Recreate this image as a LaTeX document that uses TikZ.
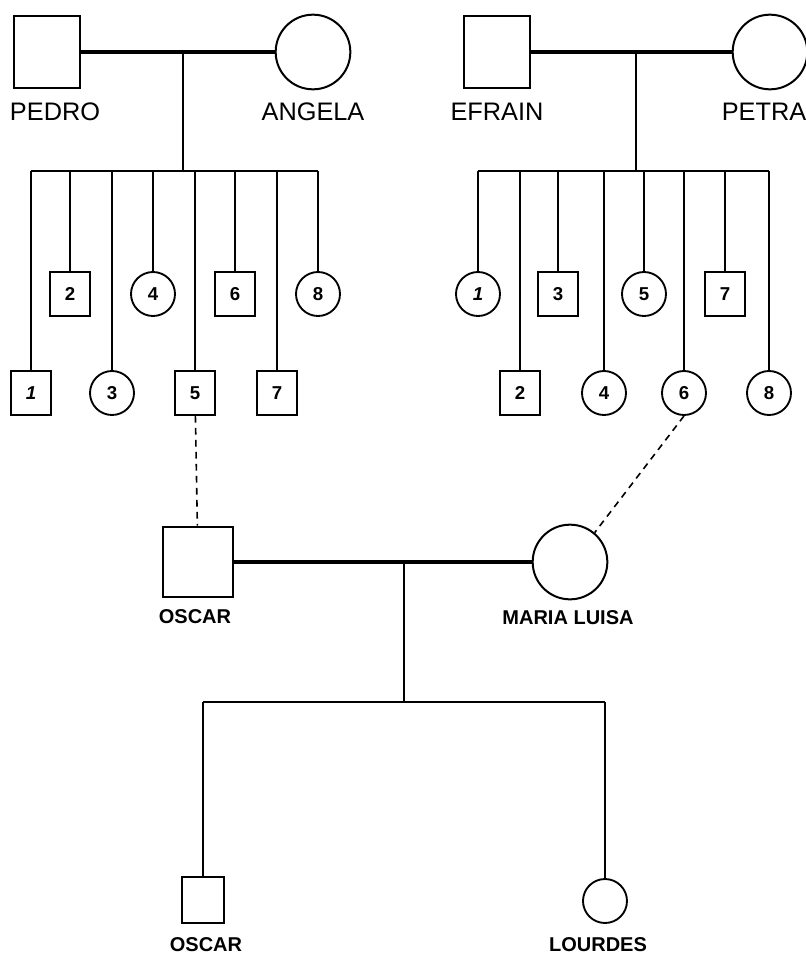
\documentclass[tikz,border=0pt]{standalone}
\usepackage{fontspec}
\setmainfont{Liberation Sans}
\usetikzlibrary{positioning,calc}

\begin{document}
\begin{tikzpicture}[x=0.75pt, y=-0.75pt,
    parentm/.style={draw, line width=1.5pt, rectangle, inner sep=0pt, minimum width=50pt, minimum height=54pt},
    parentf/.style={draw, line width=1.5pt, circle, inner sep=0pt, minimum size=56pt},
    kidm/.style={draw, line width=1.4pt, rectangle, inner sep=0pt, minimum width=30pt, minimum height=33pt, font=\bfseries\fontsize{14pt}{14pt}\selectfont},
    kidf/.style={draw, line width=1.4pt, circle, inner sep=0pt, minimum size=33pt, font=\bfseries\fontsize{14pt}{14pt}\selectfont},
    marriage/.style={line width=2.8pt},
    descent/.style={line width=1.1pt},
    twin/.style={line width=1.2pt, dash pattern=on 5pt off 4pt},
    bigname/.style={inner sep=0pt, font=\fontsize{19pt}{19pt}\selectfont},
    smallname/.style={inner sep=0pt, font=\bfseries\fontsize{15pt}{15pt}\selectfont}
]
\useasboundingbox (0,0) rectangle (806,956);

% first family
\node[parentm] (pedro) at (47, 52) {};
\node[parentf] (angela) at (313, 52) {};
\node[bigname] (pedrolbl) at (55, 112) {PEDRO};
\node[bigname] (angelalbl) at (313, 112) {ANGELA};
\coordinate (pa) at (183, 52);
\coordinate (pabar) at (183, 171);

\node[kidm] (pa1) at (31, 393) {\itshape 1};
\node[kidm] (pa2) at (70, 294) {2};
\node[kidf] (pa3) at (112, 393) {3};
\node[kidf] (pa4) at (153, 294) {4};
\node[kidm] (pa5) at (195, 393) {5};
\node[kidm] (pa6) at (235, 294) {6};
\node[kidm] (pa7) at (277, 393) {7};
\node[kidf] (pa8) at (318, 294) {8};

% second family
\node[parentm] (efrain) at (497, 52) {};
\node[parentf] (petra) at (770, 52) {};
\node[bigname] (efrainlbl) at (497, 112) {EFRAIN};
\node[bigname] (petralbl) at (764, 112) {PETRA};
\coordinate (ef) at (636, 52);
\coordinate (efbar) at (636, 171);

\node[kidf] (ef1) at (478, 294) {\itshape 1};
\node[kidm] (ef2) at (520, 393) {2};
\node[kidm] (ef3) at (558, 294) {3};
\node[kidf] (ef4) at (604, 393) {4};
\node[kidf] (ef5) at (644, 294) {5};
\node[kidf] (ef6) at (684, 393) {6};
\node[kidm] (ef7) at (725, 294) {7};
\node[kidf] (ef8) at (769, 393) {8};

% couple
\node[parentm, minimum width=52.5pt, minimum height=53pt] (oscar) at (198, 562) {};
\node[parentf] (maria) at (570, 562) {};
\node[smallname] (oscarlbl) at (195, 617) {OSCAR};
\node[smallname] (marialbl) at (568, 618) {MARIA LUISA};
\coordinate (os) at (404, 562);
\coordinate (osbar) at (404, 702);

\node[kidm, minimum width=32pt, minimum height=34pt] (oscarjr) at (203, 900) {};
\node[kidf] (lourdes) at (605, 901) {};
\node[smallname] (oscarjrlbl) at (206, 945) {OSCAR};
\node[smallname] (lourdeslbl) at (598, 945) {LOURDES};

\draw[marriage] (pedro) -- (angela);
\draw[descent] (pa) -- (pabar);
\draw[descent] (pa1 |- pabar) -- (pa8 |- pabar);
\draw[descent] (pa1 |- pabar) -- (pa1);
\draw[descent] (pa2 |- pabar) -- (pa2);
\draw[descent] (pa3 |- pabar) -- (pa3);
\draw[descent] (pa4 |- pabar) -- (pa4);
\draw[descent] (pa5 |- pabar) -- (pa5);
\draw[descent] (pa6 |- pabar) -- (pa6);
\draw[descent] (pa7 |- pabar) -- (pa7);
\draw[descent] (pa8 |- pabar) -- (pa8);

\draw[marriage] (efrain) -- (petra);
\draw[descent] (ef) -- (efbar);
\draw[descent] (ef1 |- efbar) -- (ef8 |- efbar);
\draw[descent] (ef1 |- efbar) -- (ef1);
\draw[descent] (ef2 |- efbar) -- (ef2);
\draw[descent] (ef3 |- efbar) -- (ef3);
\draw[descent] (ef4 |- efbar) -- (ef4);
\draw[descent] (ef5 |- efbar) -- (ef5);
\draw[descent] (ef6 |- efbar) -- (ef6);
\draw[descent] (ef7 |- efbar) -- (ef7);
\draw[descent] (ef8 |- efbar) -- (ef8);

\draw[twin] (pa5) -- (oscar);
\draw[twin] (ef6.south) -- (maria.50);

\draw[marriage] (oscar) -- (maria);
\draw[descent] (os) -- (osbar);
\draw[descent] (oscarjr |- osbar) -- (lourdes |- osbar);
\draw[descent] (oscarjr |- osbar) -- (oscarjr);
\draw[descent] (lourdes |- osbar) -- (lourdes);

\end{tikzpicture}
\end{document}
